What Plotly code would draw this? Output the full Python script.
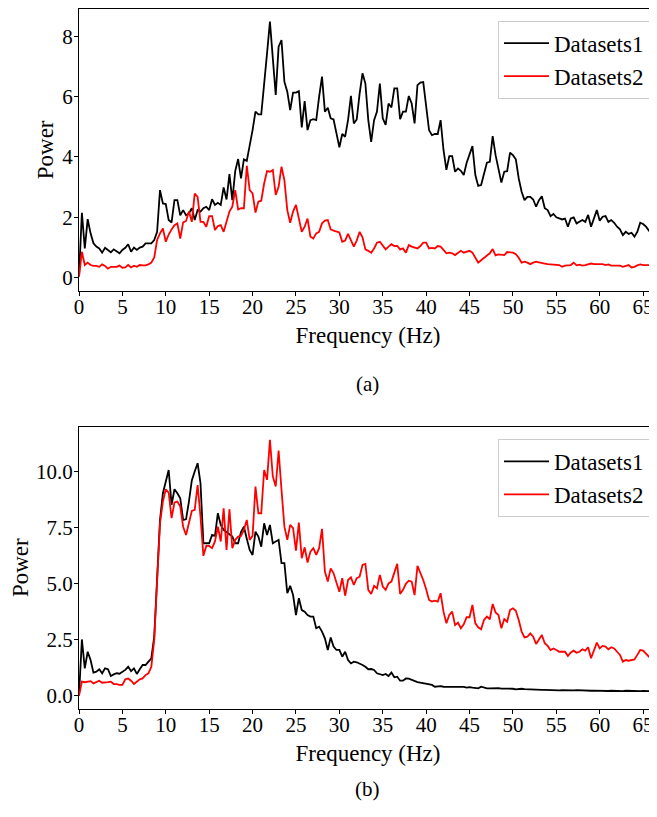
import plotly.graph_objects as go

# Frequency resolution of the spectra (Hz per bin)
FREQ_STEP = 1.0 / 3.0

# ---- Panel (a) ----
a_datasets1 = [
    0.05, 2.15, 0.97, 1.94, 1.47, 1.14, 1.03, 0.97, 0.83, 0.99,
    0.92, 0.84, 0.94, 0.88, 0.81, 0.92, 0.99, 1.11, 0.86, 1.00,
    0.92, 1.00, 1.03, 1.14, 1.14, 1.14, 1.25, 1.52, 2.90, 2.46,
    2.44, 1.91, 1.83, 2.57, 2.57, 2.07, 2.24, 2.07, 2.13, 2.30,
    1.91, 2.24, 2.19, 2.30, 2.35, 2.24, 2.60, 2.41, 2.48, 2.41,
    2.99, 2.59, 3.43, 2.57, 3.53, 3.93, 3.29, 3.92, 3.87, 4.34,
    4.89, 5.50, 5.41, 5.41, 6.32, 7.43, 8.48, 7.32, 6.05, 7.65,
    7.87, 6.49, 6.16, 5.55, 6.13, 6.13, 6.18, 4.98, 5.85, 4.89,
    5.22, 5.25, 5.22, 5.99, 6.66, 5.50, 5.63, 5.28, 5.24, 4.78,
    4.32, 4.76, 4.67, 5.22, 6.02, 5.11, 5.24, 6.10, 6.77, 6.43,
    5.22, 4.50, 5.22, 5.50, 6.43, 5.28, 5.06, 5.77, 5.64, 6.27,
    6.27, 5.25, 5.50, 5.50, 6.02, 5.77, 5.11, 6.38, 6.46, 6.48,
    5.66, 4.89, 4.72, 4.76, 4.76, 5.22, 4.23, 3.57, 4.03, 4.03,
    3.51, 3.62, 3.54, 3.40, 3.81, 4.06, 4.36, 3.40, 3.04, 3.07,
    3.40, 3.81, 3.84, 4.69, 4.06, 3.57, 3.15, 3.51, 3.53, 4.14,
    4.06, 3.92, 3.29, 2.85, 2.57, 2.68, 2.68, 2.59, 2.35, 2.57,
    2.70, 2.30, 2.24, 2.04, 2.11, 2.00, 1.96, 1.93, 1.96, 1.69,
    1.96, 2.00, 1.80, 1.85, 1.91, 1.85, 2.08, 1.69, 1.96, 2.24,
    1.89, 2.02, 2.04, 1.85, 1.91, 1.82, 1.69, 1.60, 1.41, 1.52,
    1.45, 1.49, 1.36, 1.52, 1.82, 1.78, 1.69, 1.56, 1.67, 1.63,
    1.56,
]
a_datasets2 = [
    0.03, 0.86, 0.42, 0.50, 0.42, 0.39, 0.39, 0.36, 0.44, 0.39,
    0.30, 0.36, 0.36, 0.36, 0.40, 0.33, 0.34, 0.42, 0.34, 0.40,
    0.36, 0.42, 0.41, 0.41, 0.44, 0.50, 0.67, 1.25, 1.47, 1.63,
    1.19, 1.43, 1.60, 1.74, 1.80, 1.30, 1.83, 1.88, 2.19, 1.85,
    2.79, 2.68, 1.85, 1.85, 1.69, 2.04, 2.04, 1.58, 1.71, 1.74,
    1.52, 1.85, 2.19, 2.35, 2.90, 2.26, 2.30, 2.30, 3.71, 2.90,
    2.79, 2.16, 2.52, 2.55, 3.12, 3.53, 3.51, 3.57, 2.74, 3.01,
    3.68, 3.23, 2.24, 1.82, 2.19, 2.41, 1.91, 1.52, 1.69, 1.96,
    1.36, 1.30, 1.47, 1.52, 1.80, 1.89, 1.91, 1.60, 1.56, 1.52,
    1.50, 1.19, 1.23, 1.45, 1.25, 1.03, 1.23, 1.52, 1.34, 0.94,
    0.89, 0.83, 0.97, 1.16, 1.19, 1.08, 0.94, 1.03, 1.11, 1.05,
    1.05, 0.94, 0.97, 0.83, 1.08, 1.03, 0.99, 0.97, 1.05, 1.16,
    1.16, 0.97, 0.99, 0.97, 1.05, 1.03, 0.92, 0.81, 0.83, 0.81,
    0.75, 0.81, 0.89, 0.83, 0.85, 0.89, 0.83, 0.64, 0.50, 0.58,
    0.66, 0.73, 0.81, 0.95, 0.74, 0.77, 0.77, 0.75, 0.85, 0.85,
    0.83, 0.78, 0.66, 0.50, 0.53, 0.50, 0.45, 0.50, 0.53, 0.51,
    0.50, 0.47, 0.45, 0.44, 0.42, 0.43, 0.42, 0.36, 0.40, 0.41,
    0.42, 0.50, 0.41, 0.43, 0.40, 0.42, 0.44, 0.47, 0.45, 0.45,
    0.44, 0.45, 0.42, 0.44, 0.40, 0.40, 0.42, 0.40, 0.36, 0.40,
    0.42, 0.34, 0.36, 0.41, 0.44, 0.42, 0.42, 0.40, 0.42, 0.41,
    0.41,
]

# ---- Panel (b) ----
b_datasets1 = [
    0.00, 2.51, 1.22, 1.96, 1.59, 1.03, 1.07, 1.18, 1.00, 1.22,
    1.18, 0.88, 0.95, 1.00, 0.98, 1.07, 1.15, 1.29, 1.10, 1.22,
    0.97, 1.18, 1.37, 1.37, 1.52, 1.67, 2.63, 5.16, 7.84, 9.03,
    9.55, 10.07, 8.51, 9.21, 9.03, 8.81, 7.84, 7.87, 8.66, 9.60,
    10.00, 10.37, 9.48, 6.80, 6.80, 6.80, 7.17, 7.13, 8.14, 7.62,
    7.40, 7.30, 7.20, 7.10, 6.80, 6.80, 7.30, 7.54, 7.00, 6.50,
    6.28, 7.32, 7.10, 6.65, 7.69, 7.17, 7.62, 6.80, 6.88, 6.95,
    5.91, 5.91, 4.57, 4.90, 4.49, 3.60, 4.35, 3.82, 3.75, 3.60,
    3.53, 3.53, 3.01, 3.08, 2.86, 2.56, 2.04, 2.60, 2.19, 2.04,
    2.04, 1.74, 1.96, 1.59, 1.44, 1.52, 1.49, 1.44, 1.37, 1.29,
    1.18, 1.19, 1.15, 1.00, 0.95, 0.92, 0.97, 0.88, 1.03, 0.82,
    0.85, 0.67, 0.67, 0.77, 0.76, 0.70, 0.65, 0.61, 0.58, 0.55,
    0.52, 0.51, 0.48, 0.40, 0.43, 0.43, 0.40, 0.40, 0.39, 0.40,
    0.40, 0.41, 0.39, 0.39, 0.36, 0.38, 0.36, 0.36, 0.33, 0.40,
    0.35, 0.33, 0.33, 0.34, 0.32, 0.34, 0.32, 0.32, 0.31, 0.30,
    0.31, 0.28, 0.30, 0.31, 0.29, 0.28, 0.29, 0.26, 0.26, 0.26,
    0.26, 0.26, 0.25, 0.26, 0.26, 0.25, 0.24, 0.25, 0.24, 0.25,
    0.23, 0.24, 0.25, 0.24, 0.24, 0.23, 0.22, 0.22, 0.23, 0.22,
    0.24, 0.23, 0.22, 0.21, 0.22, 0.21, 0.22, 0.21, 0.20, 0.22,
    0.21, 0.23, 0.21, 0.20, 0.20, 0.21, 0.20, 0.19, 0.20, 0.20,
    0.19,
]
b_datasets2 = [
    0.00, 0.63, 0.60, 0.63, 0.65, 0.55, 0.60, 0.67, 0.58, 0.58,
    0.61, 0.63, 0.52, 0.52, 0.48, 0.48, 0.73, 0.77, 0.67, 0.52,
    0.63, 0.73, 0.77, 0.92, 1.00, 1.29, 2.49, 5.46, 7.69, 8.66,
    9.21, 9.06, 7.92, 8.62, 8.66, 8.44, 7.54, 7.17, 7.69, 8.24,
    8.29, 9.40, 7.99, 6.24, 6.68, 6.68, 6.58, 6.88, 7.54, 6.88,
    8.36, 6.50, 8.32, 6.58, 6.95, 7.10, 7.13, 7.40, 7.84, 6.95,
    7.13, 9.33, 8.14, 8.14, 10.07, 9.63, 11.41, 9.78, 9.33, 10.94,
    9.18, 7.54, 6.95, 7.62, 7.47, 6.47, 7.72, 6.13, 6.62, 5.94,
    6.43, 6.58, 6.28, 6.58, 7.44, 5.54, 5.09, 5.68, 5.46, 5.01,
    4.64, 5.24, 4.46, 5.16, 5.28, 4.94, 5.24, 5.31, 5.83, 5.88,
    4.72, 4.54, 4.90, 4.79, 5.39, 4.87, 4.72, 5.01, 5.09, 5.49,
    5.88, 4.54, 4.72, 4.99, 5.13, 5.09, 4.49, 5.79, 5.49, 5.16,
    4.75, 4.27, 4.20, 4.24, 4.20, 4.57, 3.75, 3.23, 3.60, 3.75,
    3.15, 3.26, 3.01, 3.18, 3.50, 3.50, 4.05, 3.23, 3.05, 2.96,
    3.38, 3.53, 3.41, 4.09, 3.71, 3.60, 3.01, 3.42, 3.30, 3.82,
    3.90, 3.79, 3.38, 2.86, 2.60, 2.63, 2.78, 2.63, 2.31, 2.51,
    2.71, 2.34, 2.22, 2.04, 2.11, 2.04, 1.96, 1.96, 1.96, 1.77,
    1.93, 2.01, 1.92, 1.96, 2.07, 2.01, 2.16, 1.67, 2.07, 2.37,
    2.11, 2.22, 2.19, 2.07, 2.16, 2.11, 1.96, 1.82, 1.52, 1.59,
    1.56, 1.59, 1.62, 1.82, 2.04, 2.01, 1.89, 1.74, 1.86, 1.77,
    1.71,
]

freqs = [i * FREQ_STEP for i in range(len(a_datasets1))]

x_ticks = [0, 5, 10, 15, 20, 25, 30, 35, 40, 45, 50, 55, 60, 65]
a_y_ticks = [0, 2, 4, 6, 8]
b_y_ticks = [0.0, 2.5, 5.0, 7.5, 10.0]

FONT = "Liberation Serif"
# page has an 8px body margin; figure sized so it ends at the window edge
OFF = 8
W, H = 657 - OFF, 817 - OFF
LINE_W = 1.8


def px_x(x):  # page x -> paper fraction
    return (x - OFF) / W


def px_y(y):  # page y -> paper fraction
    return 1 - (y - OFF) / H


fig = go.Figure()
fig.add_trace(go.Scatter(x=freqs, y=a_datasets1, mode="lines", name="Datasets1",
                         line=dict(color="black", width=LINE_W), xaxis="x", yaxis="y", legend="legend"))
fig.add_trace(go.Scatter(x=freqs, y=a_datasets2, mode="lines", name="Datasets2",
                         line=dict(color="red", width=LINE_W), xaxis="x", yaxis="y", legend="legend"))
fig.add_trace(go.Scatter(x=freqs, y=b_datasets1, mode="lines", name="Datasets1",
                         line=dict(color="black", width=LINE_W), xaxis="x2", yaxis="y2", legend="legend2"))
fig.add_trace(go.Scatter(x=freqs, y=b_datasets2, mode="lines", name="Datasets2",
                         line=dict(color="red", width=LINE_W), xaxis="x2", yaxis="y2", legend="legend2"))

x_left = px_x(79)
dom_a = [px_y(290.7), px_y(9)]
dom_b = [px_y(708.7), px_y(426.7)]

xcommon = dict(domain=[x_left, 1], range=[0, 66.6], tickvals=x_ticks, ticks="outside",
               ticklen=4, tickwidth=1.2, tickcolor="black", showline=True, linecolor="black",
               linewidth=1.3, mirror=True, showgrid=False, zeroline=False, automargin=False,
               ticklabelstandoff=-7,
               tickfont=dict(family=FONT, size=21, color="black"),
               title=dict(text="Frequency (Hz)", font=dict(family=FONT, size=23, color="black"), standoff=8))
ycommon = dict(ticks="outside", ticklen=4, tickwidth=1.2, tickcolor="black", showline=True,
               linecolor="black", linewidth=1.3, mirror=False, showgrid=False, zeroline=False,
               automargin=False, ticklabelstandoff=-3,
               tickfont=dict(family=FONT, size=21, color="black"),
               title=dict(text="Power", font=dict(family=FONT, size=23, color="black"), standoff=2))

legend_common = dict(xanchor="right", yanchor="top", bgcolor="rgba(255,255,255,0.8)",
                     bordercolor="#cccccc", borderwidth=1, itemwidth=45,
                     font=dict(family=FONT, size=23, color="black"))

fig.update_layout(
    width=W, height=H,
    margin=dict(l=0, r=0, t=0, b=0, autoexpand=False),
    paper_bgcolor="white", plot_bgcolor="white",
    font=dict(family=FONT, color="black"),
    xaxis=dict(**xcommon, anchor="y"),
    yaxis=dict(**ycommon, domain=dom_a, range=[-0.43, 8.9], tickvals=a_y_ticks, anchor="x"),
    xaxis2=dict(**xcommon, anchor="y2"),
    yaxis2=dict(**ycommon, domain=dom_b, range=[-0.58, 12.0], tickvals=b_y_ticks,
                tickformat=".1f", anchor="x2"),
    legend=dict(**legend_common, x=px_x(650), y=px_y(20.7)),
    legend2=dict(**legend_common, x=px_x(650), y=px_y(439)),
    annotations=[
        dict(text="(a)", xref="paper", yref="paper", x=(x_left + 1) / 2, y=px_y(384),
             showarrow=False, font=dict(family=FONT, size=21, color="black")),
        dict(text="(b)", xref="paper", yref="paper", x=(x_left + 1) / 2, y=px_y(803),
             showarrow=False, font=dict(family=FONT, size=21, color="black")),
    ],
)

fig.write_html("out.html")
